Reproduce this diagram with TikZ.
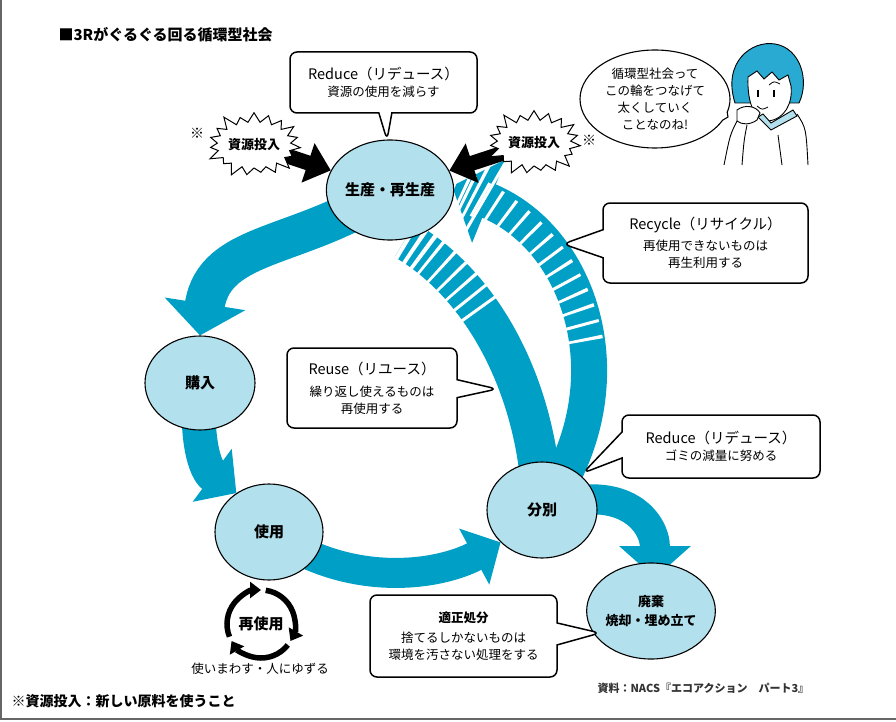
\documentclass[tikz,border=0pt]{standalone}
\usepackage{fontspec}
\setmainfont{Noto Sans CJK JP}
\usetikzlibrary{arrows.meta,shapes.geometric,shapes.symbols,shapes.callouts,backgrounds}

\definecolor{flowblue}{RGB}{0,160,198}
\definecolor{stagefill}{RGB}{178,224,236}
\definecolor{hairblue}{RGB}{40,170,210}

\newcommand{\fsz}[2]{\fontsize{#1}{#2}\selectfont}

\tikzset{
  stage/.style={ellipse, draw, fill=stagefill, line width=1.1pt, inner sep=0pt,
    minimum width=108pt, minimum height=96pt, align=center,
    font=\fsz{15}{19}\bfseries},
  note/.style={rectangle callout, draw, fill=white, line width=1.5pt,
    rounded corners=7pt, inner sep=0pt, align=center, font=\fsz{12.5}{17}},
  burst/.style={starburst, draw, fill=white, line width=1pt, starburst points=19,
    starburst point height=13pt, minimum width=98pt, minimum height=72pt,
    inner sep=0pt, font=\fsz{13}{16}\bfseries},
  bandstripes/.style={white, line width=#1},
}

\begin{document}
\begin{tikzpicture}[x=1pt, y=-1pt]
\useasboundingbox (0,0) rectangle (896,722);
\draw[black!60, line width=1.5pt] (1,0) -- (1,719) -- (896,719);

% title and notes
\node[anchor=west, font=\fsz{15}{18}\bfseries] (title) at (55,35) {■3Rがぐるぐる回る循環型社会};
\node[anchor=west, font=\fsz{14}{18}\bfseries] (foot) at (8,701) {※資源投入：新しい原料を使うこと};
\node[anchor=west, font=\fsz{11}{14}\bfseries, black!80] (source) at (594,688) {資料：NACS『エコアクション　パート3』};

% stages of the cycle
\node[stage, minimum width=104pt, minimum height=100pt] (prod) at (390,190) {生産・再生産};
\node[stage, minimum width=110pt, minimum height=94pt] (buy) at (200,383) {購入};
\node[stage] (use) at (269,532) {使用};
\node[stage, minimum width=110pt] (sort) at (542,510) {分別};
\node[stage, minimum width=104pt, font=\fsz{13}{19}\bfseries] (dispose) at (651,611) {廃棄\\焼却・埋め立て};
\coordinate (disposeTip) at (655,578);

% resource input
\node[burst] (burstL) at (254,145) {資源投入};
\node[burst] (burstR) at (534,143) {資源投入};
\node[font=\fsz{14}{16}\bfseries] (markL) at (197,133) {※};
\node[font=\fsz{14}{16}\bfseries] (markR) at (589,140) {※};

% callouts
\coordinate (reduceTopTip) at (387,140);
\coordinate (recycleTip) at (563,244);
\coordinate (reuseTip) at (497,389);
\coordinate (reduceLowTip) at (583,473);
\coordinate (properTip) at (600,633);
\node[note, minimum width=187pt, minimum height=61pt, callout pointer width=13pt,
  callout absolute pointer={(reduceTopTip)}] (reduceTop) at (383.5,82.5)
  {{\fsz{14.5}{20}Reduce（リデュース）}\\資源の使用を減らす};
\node[note, minimum width=205pt, minimum height=80pt, callout pointer width=28pt,
  callout absolute pointer={(recycleTip)}] (recycle) at (705.5,243)
  {{\fsz{14.5}{17}Recycle（リサイクル）}\\[4pt]再使用できないものは\\再生利用する};
\node[note, minimum width=170pt, minimum height=80pt, callout pointer width=18pt,
  callout absolute pointer={(reuseTip)}] (reuse) at (372,388)
  {{\fsz{14.5}{17}Reuse（リユース）}\\[5pt]繰り返し使えるものは\\再使用する};
\node[note, minimum width=198pt, minimum height=63pt, callout pointer width=26pt,
  callout absolute pointer={(reduceLowTip)}] (reduceLow) at (721,446.5)
  {{\fsz{14.5}{20}Reduce（リデュース）}\\ゴミの減量に努める};
\node[note, minimum width=187pt, minimum height=82pt, callout pointer width=22pt,
  callout absolute pointer={(properTip)}] (proper) at (463.5,636)
  {{\bfseries 適正処分}\\[3pt]捨てるしかないものは\\環境を汚さない処理をする};

% speech bubble
\coordinate (bubbleTip) at (728,117);
\node[ellipse callout, draw, fill=white, line width=1.1pt, minimum width=150pt,
  minimum height=98pt, inner sep=0pt, align=center, font=\fsz{12.5}{17},
  callout pointer arc=10, callout absolute pointer={(bubbleTip)}] (bubble) at (655,99)
  {循環型社会って\\この輪をつなげて\\太くしていく\\ことなのね!};

% girl
\filldraw[fill=hairblue, line width=0.9pt] (735,103) .. controls (722,62) and (752,40) .. (775,44)
  .. controls (800,48) and (810,80) .. (799,103) -- cycle;
\filldraw[fill=white, line width=0.9pt] (748,77) -- (757,71) -- (764,79) -- (772,72) -- (779,80)
  -- (788,75) -- (791,86) .. controls (793,104) and (784,119) .. (769,121)
  .. controls (755,121) and (747,104) .. cycle;
\draw[line width=1.3pt] (758,90) -- (758,97) (774,90) -- (774,97);
\draw[line width=0.8pt] (769,85) .. controls (774,81) .. (780,84);
\draw[line width=0.8pt] (757,106) .. controls (762,110) .. (768,107);
\filldraw[fill=stagefill, line width=0.9pt] (758,117) -- (771,130) -- (797,116) -- (793,110)
  -- (771,123) -- (763,114) -- cycle;
\filldraw[fill=white, line width=0.9pt] (737,110) .. controls (745,104) and (756,106) .. (760,113)
  -- (757,120) .. controls (750,125) and (742,125) .. (737,121) -- cycle;
\draw[line width=0.9pt] (737,121) .. controls (730,135) .. (724,165);
\draw[line width=0.9pt] (747,125) .. controls (744,140) .. (742,165);
\draw[line width=0.9pt] (797,114) .. controls (806,128) .. (808,165);
\draw[line width=0.9pt] (778,135) -- (782,165);

% reuse mark
\node[fill=white, inner sep=1pt, font=\fsz{15}{16}\bfseries] (reuseMark) at (261,624) {再使用};
\foreach \a in {-90,30,150}
  \draw[line width=5.5pt, -{Triangle[width=16pt,length=11pt]}]
    (reuseMark.center) ++(\a-112:34) arc[start angle=\a-112, end angle=\a, radius=34];
\node[font=\fsz{12.5}{16}] (reuseNote) at (260,669) {使いまわす・人にゆずる};

% flows behind the stages
\begin{scope}[on background layer]
  \fill[white] (0,0) rectangle (896,722);
  \draw[flowblue, line width=40pt, -{Triangle[width=80pt,length=32pt]}]
    (prod.center) .. controls (300,250) and (215,240) .. (buy.north);
  \draw[flowblue, line width=34pt, -{Triangle[width=64pt,length=30pt]}]
    (buy.center) .. controls (195,440) and (205,470) .. (use.130);
  \draw[flowblue, line width=30pt, -{Triangle[width=62pt,length=30pt]}]
    (use.center) .. controls (350,590) and (440,575) .. (sort.218);
  \draw[flowblue, line width=30pt, -{Triangle[width=70pt,length=32pt]}]
    (sort.center) .. controls (620,480) and (655,520) .. (disposeTip);
  % recycling, outer band with head
  \coordinate (recycleHead) at (452,186);
  \draw[flowblue, line width=36pt, -{Triangle[width=88pt,length=40pt]}]
    (sort.center) .. controls (630,390) and (585,240) .. (recycleHead);
  \draw[bandstripes=38pt, dash pattern=on 3pt off 12pt on 3pt off 12pt on 3pt off 12pt
    on 3pt off 12pt on 3pt off 12pt on 3pt off 12pt on 3pt off 12pt on 3pt off 12pt
    on 3pt off 12pt on 3pt off 12pt on 3pt off 12pt on 3pt off 12pt on 3pt off 12pt
    on 3pt off 12pt on 3pt off 12pt on 0pt off 600pt]
    (recycleHead) .. controls (585,240) and (630,390) .. (sort.center);
  \draw[bandstripes=92pt, dash pattern=on 3pt off 8pt on 3pt off 8pt on 3pt off 8pt
    on 3pt off 8pt on 0pt off 600pt]
    (recycleHead) .. controls (585,240) and (630,390) .. (sort.center);
  % recycling, inner band
  \coordinate (recycleInner) at (405,240);
  \draw[flowblue, line width=40pt] (sort.center) .. controls (540,400) and (490,290) .. (recycleInner);
  \draw[bandstripes=42pt, dash pattern=on 4pt off 6pt on 4pt off 6pt on 4pt off 6pt
    on 3pt off 11pt on 3pt off 11pt on 3pt off 11pt on 3pt off 11pt on 3pt off 11pt
    on 3pt off 11pt on 0pt off 600pt]
    (recycleInner) .. controls (490,290) and (540,400) .. (sort.center);
  % raw materials going in
  \draw[line width=15pt, -{Triangle[width=40pt,length=24pt]}] (burstL.center) -- (prod);
  \draw[line width=15pt, -{Triangle[width=40pt,length=24pt]}] (burstR.center) -- (prod);
\end{scope}
\end{tikzpicture}
\end{document}
